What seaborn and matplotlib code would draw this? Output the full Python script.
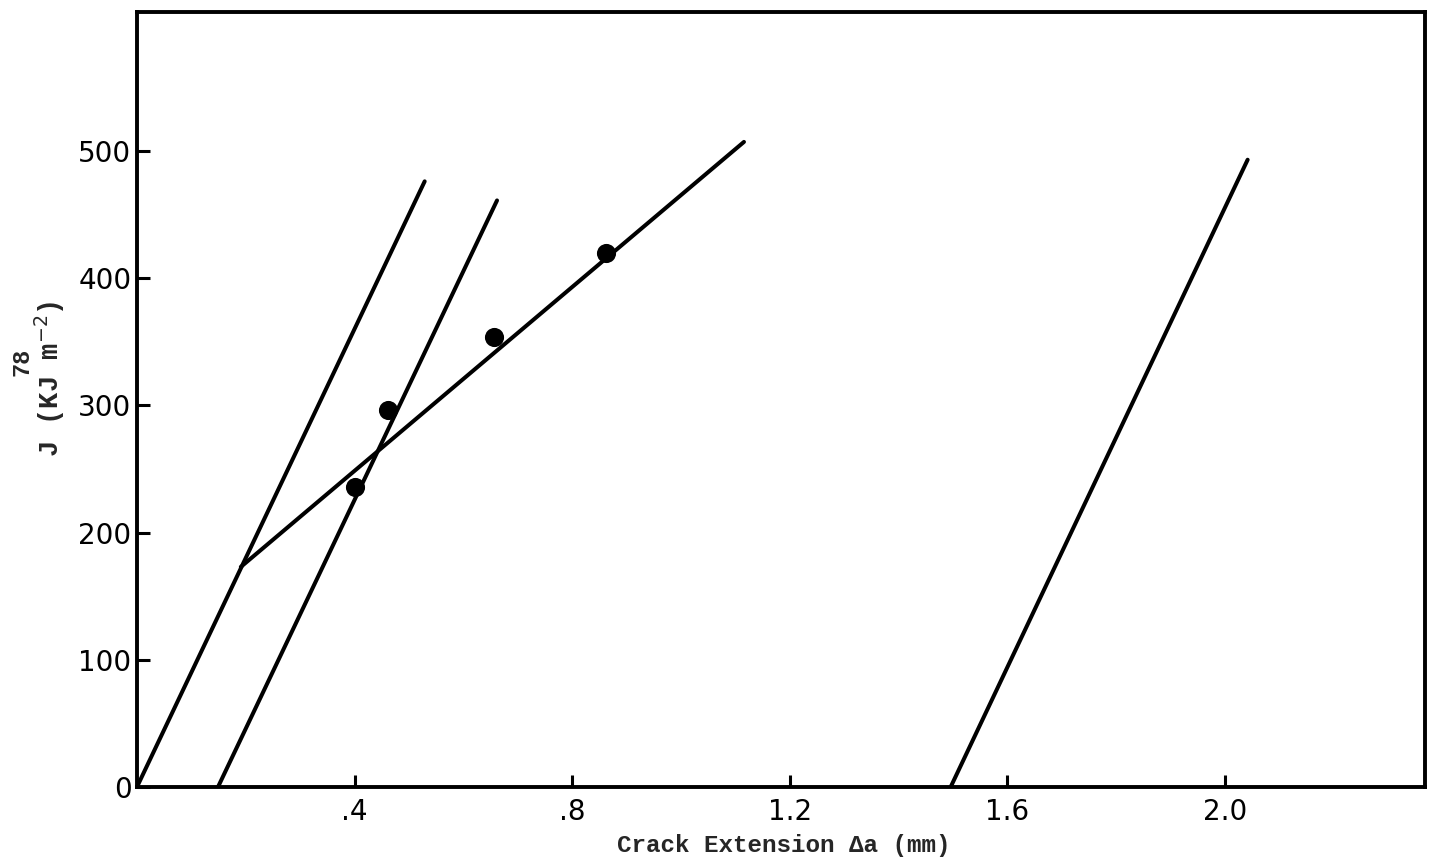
import numpy as np
import pandas as pd
import matplotlib
matplotlib.use("Agg")
import matplotlib.pyplot as plt
import seaborn as sns

# Measured J values vs crack extension
crack_ext = [0.401, 0.461, 0.656, 0.862]          # mm
j_values = [236, 296, 354, 420]                   # kJ m^-2

# Straight lines drawn on the plot, each given by its two end points
line_names = ["blunting", "offset_0.15", "offset_1.5", "R-curve fit"]
line_x0 = [0.0, 0.149, 1.496, 0.191]
line_x1 = [0.529, 0.662, 2.042, 1.116]
line_y0 = [0.0, 0.0, 0.0, 173.0]
line_y1 = [476.0, 461.0, 493.0, 507.0]

x_ticks = [0.4, 0.8, 1.2, 1.6, 2.0]
x_tick_labels = [".4", ".8", "1.2", "1.6", "2.0"]
y_ticks = [0, 100, 200, 300, 400, 500]
y_tick_labels = ["0", "100", "200", "300", "400", "500"]

sns.set_theme(style="ticks")
plt.rcParams["font.family"] = ["DejaVu Sans"]

lines_df = pd.concat(
    [
        pd.DataFrame({"line": [n, n], "x": [a, b], "y": [c, d]})
        for n, a, b, c, d in zip(line_names, line_x0, line_x1, line_y0, line_y1)
    ],
    ignore_index=True,
)
points_df = pd.DataFrame({"x": crack_ext, "J": j_values})

fig = plt.figure(figsize=(14.43, 8.66), dpi=100)
ax = fig.add_axes([0.0949, 0.0912, 0.8926, 0.8948])

sns.lineplot(
    data=lines_df, x="x", y="y", units="line", estimator=None,
    color="black", linewidth=2.9, solid_capstyle="round", sort=False, ax=ax,
)
sns.scatterplot(
    data=points_df, x="x", y="J", color="black", s=190,
    edgecolor="black", linewidth=0, zorder=5, ax=ax,
)

ax.set_xlim(0, 2.368)
ax.set_ylim(0, 609)

ax.set_xticks(x_ticks)
ax.set_xticklabels(x_tick_labels)
ax.set_yticks(y_ticks)
ax.set_yticklabels(y_tick_labels)
ax.tick_params(axis="both", direction="in", length=9, width=2.2,
               labelsize=20, colors="black", pad=4)
ax.tick_params(axis="x", pad=8)

for side in ["left", "right", "top", "bottom"]:
    ax.spines[side].set_visible(True)
    ax.spines[side].set_linewidth(2.8)
    ax.spines[side].set_color("black")

mono = dict(family=["Liberation Mono", "DejaVu Sans Mono"], weight="bold")
ax.set_xlabel("Crack Extension \u0394a (mm)", fontsize=17.5, **mono)
ax.xaxis.set_label_coords(0.502, -0.075)
ax.xaxis.label.set_verticalalignment("center")
ax.set_ylabel("J (KJ m$^{-2}$)", fontsize=19.5, **mono)
ax.yaxis.set_label_coords(-0.068, 0.527)
ax.yaxis.label.set_verticalalignment("center")

# page number printed sideways in the margin
fig.text(0.0152, 0.582, "78", rotation=90, fontsize=17, ha="center",
         va="center", **mono)

fig.savefig("out.png", dpi=100, facecolor="white")
